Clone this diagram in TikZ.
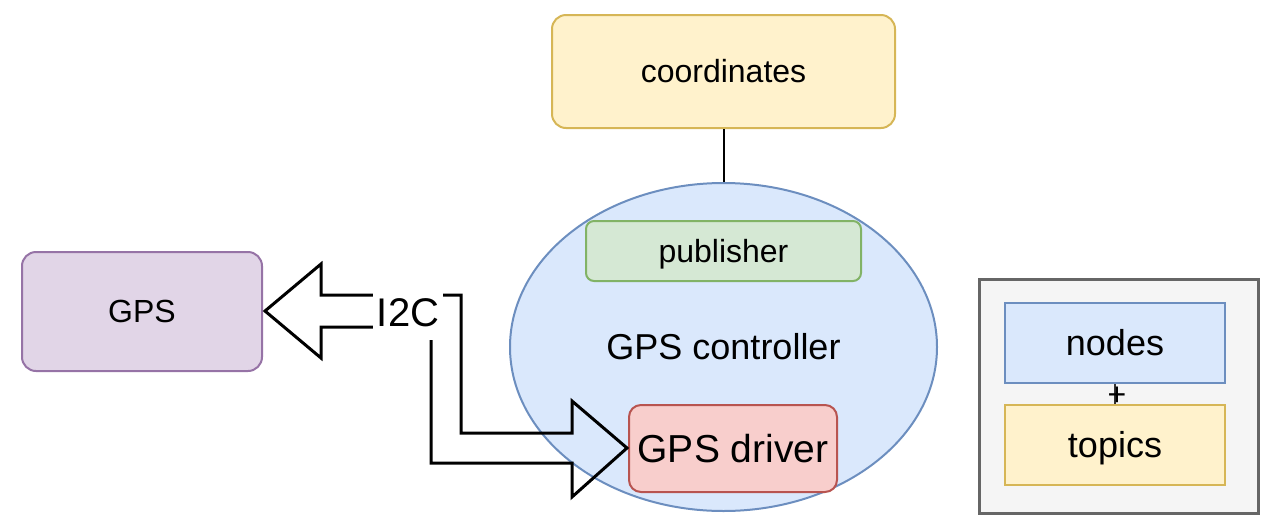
\documentclass[tikz,border=0pt]{standalone}
\usepackage{fontspec}
\setmainfont{Liberation Sans}
\usetikzlibrary{shapes.geometric}

\definecolor{yelfill}{HTML}{FFF2CC}
\definecolor{yeldraw}{HTML}{D6B656}
\definecolor{bluefill}{HTML}{DAE8FC}
\definecolor{bluedraw}{HTML}{6C8EBF}
\definecolor{grnfill}{HTML}{D5E8D4}
\definecolor{grndraw}{HTML}{82B366}
\definecolor{redfill}{HTML}{F8CECC}
\definecolor{reddraw}{HTML}{B85450}
\definecolor{purfill}{HTML}{E1D5E7}
\definecolor{purdraw}{HTML}{9673A6}
\definecolor{greyfill}{HTML}{F5F5F5}
\definecolor{greydraw}{HTML}{666666}

\tikzset{
  box/.style={draw, line width=1pt, inner sep=0pt, align=center},
  smalltext/.style={text height=14.5pt, text depth=3.4pt, font=\fontsize{16}{19}\selectfont},
  midtext/.style={text height=16.3pt, text depth=3.8pt, font=\fontsize{18}{21}\selectfont},
  bigtext/.style={text height=17.6pt, text depth=4.1pt, font=\fontsize{19.5}{23}\selectfont},
}

\begin{document}
\begin{tikzpicture}[x=0.5pt,y=-0.5pt]
\useasboundingbox (0,0) rectangle (1275,515);

% controller and its parts
\node [ellipse, box, fill=bluefill, draw=bluedraw, minimum width=213.5pt, minimum height=164pt, midtext] (ctrl) at (723.5,347) {GPS controller};
\node [box, rounded corners=4pt, fill=grnfill, draw=grndraw, minimum width=137.5pt, minimum height=30pt, smalltext] (pub) at (723.5,251) {publisher};
\node [box, rounded corners=6pt, fill=redfill, draw=reddraw, minimum width=104pt, minimum height=43.5pt, bigtext] (drv) at (733,448.5) {GPS driver};

% topic
\node [box, rounded corners=7pt, fill=yelfill, draw=yeldraw, minimum width=171.5pt, minimum height=56.5pt, smalltext] (coord) at (723.5,71.5) {coordinates};
\draw [line width=1pt] (coord.south) -- (ctrl.north);

% sensor
\node [box, rounded corners=7pt, fill=purfill, draw=purdraw, minimum width=120pt, minimum height=59.5pt, smalltext] (gps) at (142,311.5) {GPS};

% I2C bus
\coordinate (busL) at (265,311);
\coordinate (busR) at (627,448);
\draw [line width=1.5pt, line join=miter] (busL) -- ++(56,-47) -- ++(0,31) -- (461,295) -- (461,433) -- (572,433)
  -- ++(0,-32) -- (busR) -- (572,497) -- ++(0,-34) -- (431,463) -- (431,327) -- (321,327) -- ++(0,31) -- cycle;
\node [fill=white, inner sep=0pt, minimum width=35pt, minimum height=27pt, text height=18.1pt, text depth=4.2pt, font=\fontsize{20}{24}\selectfont] (bus) at (408,313) {I2C};

% legend
\node [box, line width=1.5pt, fill=greyfill, draw=greydraw, minimum width=139.5pt, minimum height=117pt] (legend) at (1118.5,396) {};
\node [box, fill=bluefill, draw=bluedraw, minimum width=110pt, minimum height=40pt, midtext] (nodes) at (1115,343) {nodes};
\node [box, fill=yelfill, draw=yeldraw, minimum width=110pt, minimum height=40pt, midtext] (topics) at (1115,445) {topics};
\draw [line width=1pt, black!80] (nodes.south) -- (topics.north);
\node [inner sep=0pt, smalltext] (plus) at (1117,394) {+};

\end{tikzpicture}
\end{document}
